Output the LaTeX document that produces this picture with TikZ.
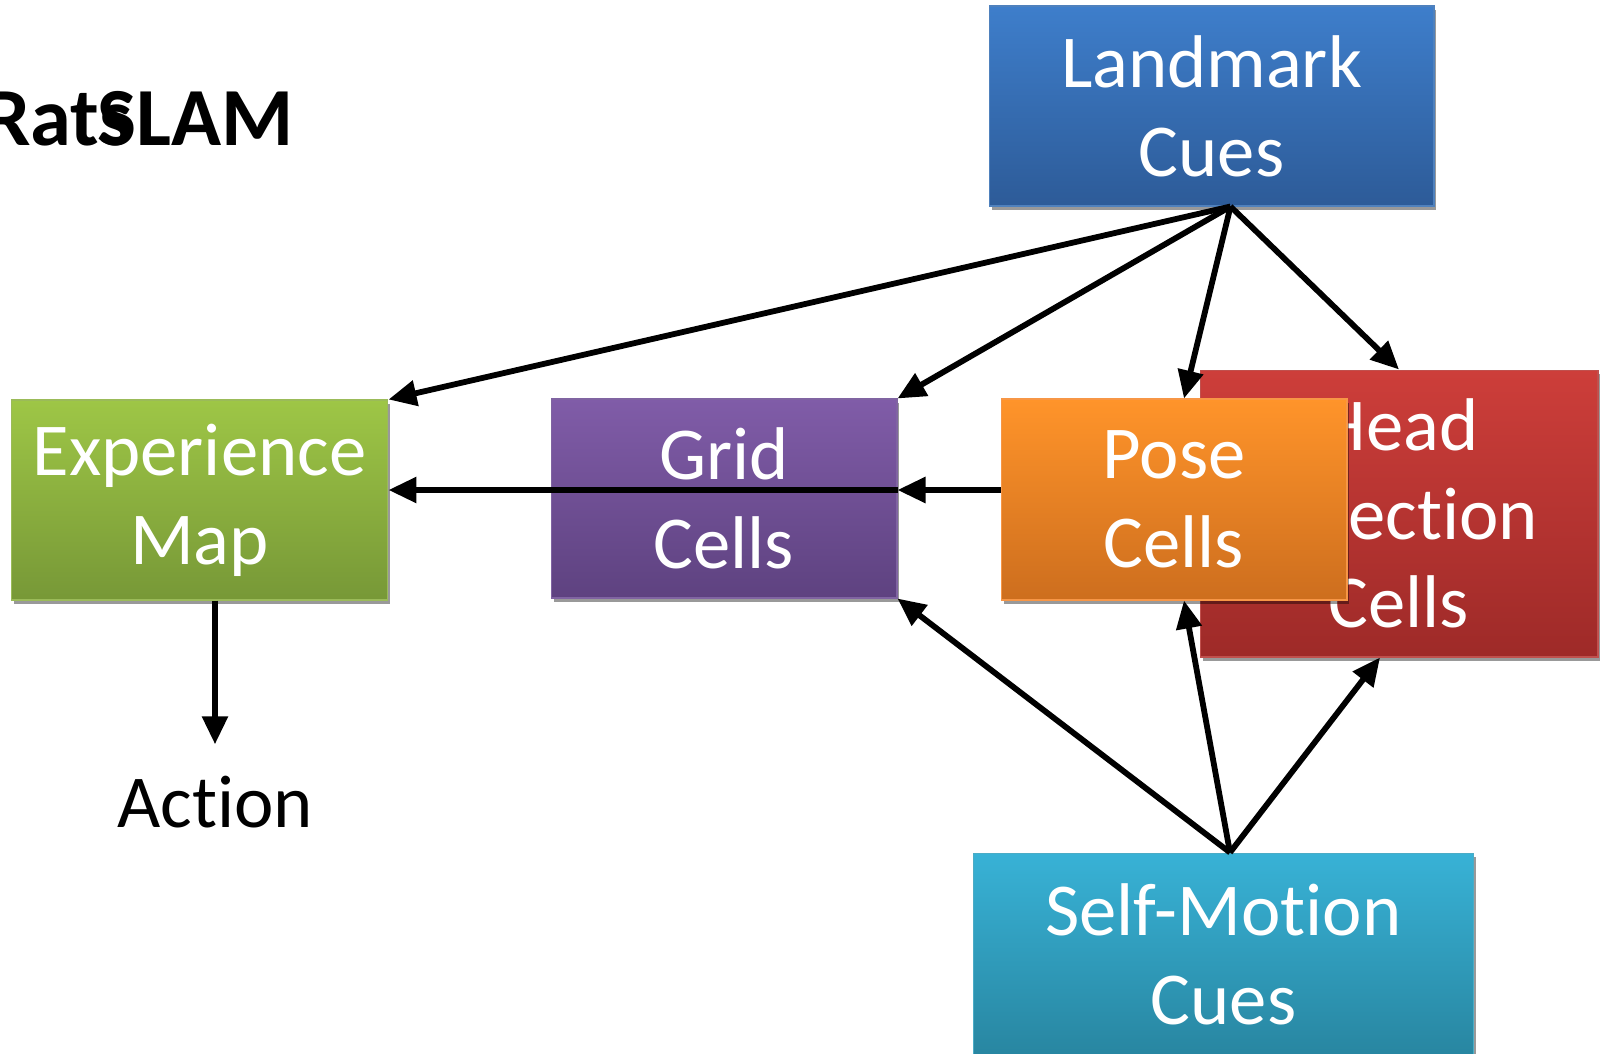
\documentclass[tikz,border=0pt]{standalone}
\usepackage{fontspec}
\setmainfont{Carlito}[Ligatures=NoCommon]
\usetikzlibrary{arrows.meta,shadows,calc}

% box fills: top and bottom of the vertical gradient, and the border
\definecolor{lmTop}{RGB}{62,126,203}   \definecolor{lmBot}{RGB}{45,91,152}   \definecolor{lmLine}{RGB}{79,129,189}
\definecolor{exTop}{RGB}{158,198,70}   \definecolor{exBot}{RGB}{119,152,55}  \definecolor{exLine}{RGB}{155,187,89}
\definecolor{grTop}{RGB}{128,92,168}   \definecolor{grBot}{RGB}{94,66,128}   \definecolor{grLine}{RGB}{128,100,162}
\definecolor{poTop}{RGB}{255,148,42}   \definecolor{poBot}{RGB}{205,110,30}  \definecolor{poLine}{RGB}{247,150,70}
\definecolor{hdTop}{RGB}{205,62,58}    \definecolor{hdBot}{RGB}{158,42,40}   \definecolor{hdLine}{RGB}{192,80,77}
\definecolor{smTop}{RGB}{56,178,214}   \definecolor{smBot}{RGB}{40,134,161}  \definecolor{smLine}{RGB}{75,172,198}

\begin{document}
\begin{tikzpicture}[x=0.02cm,y=-0.02cm,
  box/.style n args={3}{rectangle, top color=#1, bottom color=#2, draw=#3,
    line width=0.6pt, text=white, align=center, inner sep=0pt,
    font=\fontsize{42.5}{50.5}\selectfont,
    drop shadow={shadow xshift=0.05cm, shadow yshift=-0.08cm, opacity=0.4, fill=black}},
  link/.style={line width=3.3pt, -{Triangle[length=0.56cm,width=0.5cm]}},
  titlefont/.style={font=\fontsize{47}{56}\bfseries\selectfont, inner sep=0pt, anchor=base west}
]
\useasboundingbox (0,0) rectangle (1605,1054);

% title
\node[titlefont] (rats) at (-16,146) {Rats};
\node[titlefont] (slam) at (97,146) {SLAM};

% cell populations and cue inputs
\node[box={hdTop}{hdBot}{hdLine}, minimum width=7.96cm, minimum height=5.74cm]
  (HD) at (1399,513.5) {Head\\Direction\\Cells};
\node[box={poTop}{poBot}{poLine}, minimum width=6.92cm, minimum height=4.02cm]
  (Pose) at (1174,499.5) {Pose\\Cells};
\node[box={grTop}{grBot}{grLine}, minimum width=6.92cm, minimum height=3.98cm]
  (Grid) at (724,498.5) {Grid\\Cells};
\node[box={exTop}{exBot}{exLine}, minimum width=7.54cm, minimum height=4.0cm]
  (Exp) at (199.5,500) {Experience\\Map};
\node[box={lmTop}{lmBot}{lmLine}, minimum width=8.9cm, minimum height=4.0cm]
  (LC) at (1211.5,106) {Landmark\\Cues};
\node[box={smTop}{smBot}{smLine}, minimum width=10.02cm, minimum height=4.04cm]
  (SM) at (1223.5,954) {Self-Motion\\Cues};

\node[font=\fontsize{42.5}{50.5}\selectfont, inner xsep=0pt, inner ysep=0.62cm, anchor=base]
  (Action) at (215,827) {Action};

% landmark cues feed every map
\draw[link] ([xshift=0.38cm]LC.south) -- (Exp.north east);
\draw[link] ([xshift=0.38cm]LC.south) -- (Grid.north east);
\draw[link] ([xshift=0.38cm]LC.south) -- ([xshift=0.2cm]Pose.north);
\draw[link] ([xshift=0.38cm]LC.south) -- (HD.north);

% self-motion cues drive path integration
\draw[link] ([xshift=0.13cm]SM.north) -- (Grid.south east);
\draw[link] ([xshift=0.13cm]SM.north) -- ([xshift=0.2cm]Pose.south);
\draw[link] ([xshift=0.13cm]SM.north) -- ([xshift=-0.38cm]HD.south);

% pose cells -> grid cells -> experience map
\draw[link] ([yshift=0.19cm]Pose.west) -- ([yshift=0.19cm]Pose.west -| Grid.east);
\draw[link] ([yshift=0.19cm]Pose.west -| Grid.east) -- ([yshift=0.19cm]Pose.west -| Exp.east);

% experience map -> action
\draw[link] (Action.north |- Exp.south) -- (Action.north);
\end{tikzpicture}
\end{document}
